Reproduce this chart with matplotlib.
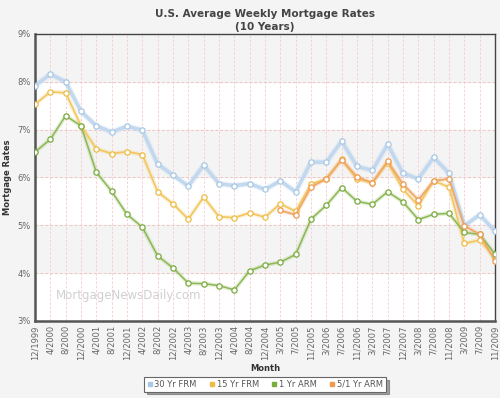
import matplotlib
matplotlib.use("Agg")
import matplotlib.pyplot as plt
import numpy as np
from matplotlib.lines import Line2D

months = ["12/1999", "4/2000", "8/2000", "12/2000", "4/2001", "8/2001", "12/2001",
          "4/2002", "8/2002", "12/2002", "4/2003", "8/2003", "12/2003", "4/2004",
          "8/2004", "12/2004", "3/2005", "7/2005", "11/2005", "3/2006", "7/2006",
          "11/2006", "3/2007", "7/2007", "12/2007", "3/2008", "7/2008", "11/2008",
          "3/2009", "7/2009", "11/2009"]

frm30 = [7.92, 8.16, 8.00, 7.38, 7.08, 6.95, 7.07, 6.99, 6.28, 6.05, 5.82, 6.26,
         5.87, 5.83, 5.87, 5.75, 5.93, 5.70, 6.32, 6.32, 6.76, 6.23, 6.15, 6.69,
         6.09, 5.97, 6.42, 6.09, 4.99, 5.22, 4.88]
frm15 = [7.53, 7.79, 7.77, 7.08, 6.60, 6.50, 6.54, 6.48, 5.70, 5.45, 5.13, 5.59,
         5.18, 5.16, 5.26, 5.17, 5.45, 5.29, 5.86, 5.97, 6.38, 5.96, 5.89, 6.31,
         5.75, 5.41, 5.93, 5.80, 4.62, 4.69, 4.32]
arm1 = [6.53, 6.80, 7.29, 7.08, 6.11, 5.71, 5.23, 4.96, 4.36, 4.11, 3.79, 3.78,
        3.74, 3.65, 4.05, 4.17, 4.23, 4.39, 5.13, 5.42, 5.79, 5.50, 5.44, 5.70,
        5.49, 5.12, 5.23, 5.25, 4.85, 4.81, 4.40]
arm51 = [None] * 16 + [5.31, 5.22, 5.80, 5.97, 6.37, 6.01, 5.89, 6.34,
                       5.86, 5.53, 5.93, 5.97, 4.99, 4.81, 4.26]

yticks = [3, 4, 5, 6, 7, 8, 9]
ytick_labels = ["3%", "4%", "5%", "6%", "7%", "8%", "9%"]

series = [
    ("30 Yr FRM", frm30, "#c2d8ee", "#a8c8e6", 2.6),
    ("15 Yr FRM", frm15, "#f2c862", "#eebc45", 1.3),
    ("1 Yr ARM", arm1, "#8cb854", "#7aab3e", 1.1),
    ("5/1 Yr ARM", arm51, "#f0a868", "#ee9a50", 1.3),
]

fig = plt.figure(figsize=(5.0, 3.98), dpi=100)
fig.patch.set_facecolor("#f4f4f4")
ax = fig.add_axes([0.07, 0.1935, 0.92, 0.7211])
ax.set_facecolor("white")

x = np.arange(len(months))
ax.set_xlim(0, len(months) - 1)
ax.set_ylim(3, 9)

# alternating bands
for lo in [4, 6, 8]:
    ax.axhspan(lo, lo + 1, color="#f4f4f4", zorder=0)

for yv in yticks[1:-1]:
    ax.axhline(yv, color="#f2c4c4", lw=0.7, ls=(0, (3, 2)), zorder=1)
for xv in x[1:-1]:
    ax.axvline(xv, color="#f4cccc", lw=0.6, ls=(0, (3, 2)), zorder=1)

for name, vals, col, mcol, lw in series:
    v = np.array([np.nan if a is None else a for a in vals], dtype=float)
    ax.plot(x, v, color=col, lw=lw + 2.0, alpha=0.22, zorder=2, solid_capstyle="round")
    ax.plot(x, v, color=col, lw=lw, zorder=3, marker="o", markersize=3.8,
            markerfacecolor="white", markeredgecolor=mcol, markeredgewidth=0.9)

ax.set_xticks(x)
ax.set_xticklabels(months, rotation=90, fontsize=6, color="#666666")
ax.set_yticks(yticks)
ax.set_yticklabels(ytick_labels, fontsize=6, color="#666666")
ax.tick_params(axis="both", length=0, pad=3)

for s in ["left", "bottom"]:
    ax.spines[s].set_color("#555555")
    ax.spines[s].set_linewidth(1.8)
for s in ["top", "right"]:
    ax.spines[s].set_color("#444444")
    ax.spines[s].set_linewidth(1.0)

ax.text(0.045, 0.075, "MortgageNewsDaily.com", transform=ax.transAxes,
        fontsize=8.5, color="#d0d0d0", zorder=1.5)

fig.text(0.53, 0.977, "U.S. Average Weekly Mortgage Rates", ha="center", va="top",
         fontsize=7.5, fontweight="bold", color="#444444")
fig.text(0.53, 0.945, "(10 Years)", ha="center", va="top",
         fontsize=7.5, fontweight="bold", color="#444444")
fig.text(0.016, 0.555, "Mortgage Rates", rotation=90, ha="center", va="center",
         fontsize=6, fontweight="bold", color="#333333")
fig.text(0.53, 0.073, "Month", ha="center", va="center",
         fontsize=6, fontweight="bold", color="#333333")

handles = [Line2D([], [], ls="none", marker="s", markersize=2.5,
                  markerfacecolor=mcol, markeredgecolor=mcol)
           for _, _, _, mcol, _ in series]
leg = fig.legend(handles, [s[0] for s in series], loc="center",
                 bbox_to_anchor=(0.53, 0.0345), ncol=4, fontsize=6,
                 frameon=True, fancybox=False, edgecolor="#666666",
                 facecolor="white", handlelength=0.6, handletextpad=0.3,
                 columnspacing=1.5, borderpad=0.35, shadow=True)
for t in leg.get_texts():
    t.set_color("#555555")
leg.get_frame().set_linewidth(0.8)

fig.savefig("out.png", dpi=100, facecolor=fig.get_facecolor())
